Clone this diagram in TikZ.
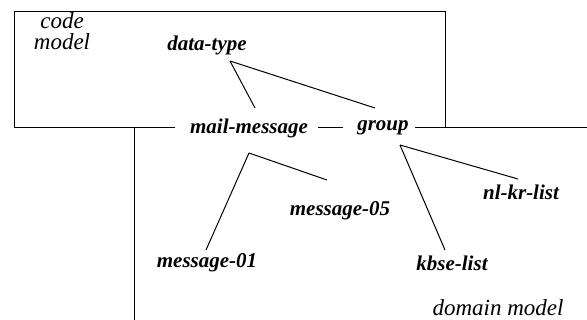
\documentclass[tikz,border=0pt]{standalone}
\usepackage{fontspec}
\setmainfont{Liberation Serif}
\begin{document}
\begin{tikzpicture}[x=1pt,y=-1pt,
  lbl/.style={inner sep=0pt,font=\fontsize{21}{21}\selectfont\bfseries\itshape},
  ttl/.style={inner sep=0pt,font=\fontsize{23}{21}\selectfont\itshape},
  ln/.style={line width=1pt,black}]
\useasboundingbox (0,0) rectangle (587,320);
% titles
\node[ttl,align=center,anchor=north] (cm) at (62,12) {code\\model};
\node[ttl,anchor=base,text depth=0pt] (dom) at (498,316) {domain model};
% concept nodes
\node[lbl] (dt) at (207,45) {data-type};
\node[lbl] (mm) at (249,128) {mail-message};
\node[lbl] (gr) at (383,128) {group};
\node[lbl] (m05) at (340,211) {message-05};
\node[lbl] (m01) at (207,263) {message-01};
\node[lbl] (kb) at (452,263) {kbse-list};
\node[lbl] (nk) at (521,192) {nl-kr-list};
% frame coordinates
\coordinate (bl) at (14,128);
\coordinate (tl) at (14,12);
\coordinate (tr) at (445,12);
\coordinate (br) at (445,128);
\coordinate (re) at (587,128);
\coordinate (vt) at (134,128);
\coordinate (vb) at (134,320);
\coordinate (mmL) at (175,128);
\coordinate (mmR) at (318,128);
\coordinate (grL) at (343,128);
\coordinate (grR) at (415,128);
% connector ends
\coordinate (dtB) at (230,61);
\coordinate (mmT) at (255,108);
\coordinate (grT) at (375,108);
\coordinate (mmB) at (249,153);
\coordinate (m01T) at (206,250);
\coordinate (m05T) at (327,180);
\coordinate (grB) at (400,145);
\coordinate (kbT) at (445,250);
\coordinate (nkT) at (518,179);
% frame
\draw[ln] (mmL) -- (bl) -- (tl) -- (tr) -- (br);
\draw[ln] (grR) -- (re);
\draw[ln] (mmR) -- (grL);
\draw[ln] (vt) -- (vb);
% connectors
\draw[ln] (dtB) -- (mmT);
\draw[ln] (dtB) -- (grT);
\draw[ln] (mmB) -- (m01T);
\draw[ln] (mmB) -- (m05T);
\draw[ln] (grB) -- (kbT);
\draw[ln] (grB) -- (nkT);
\end{tikzpicture}
\end{document}
